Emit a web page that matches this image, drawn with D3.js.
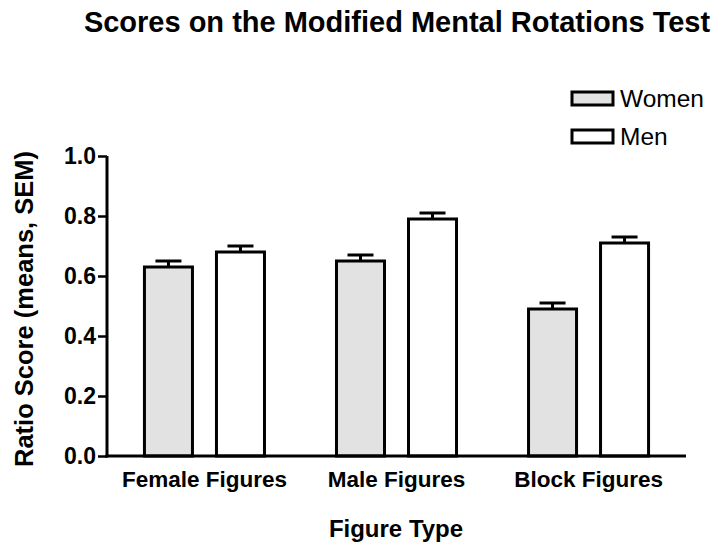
<!DOCTYPE html>
<html>
<head>
<meta charset="utf-8">
<script src="https://cdn.jsdelivr.net/npm/d3@7/dist/d3.min.js"></script>
<style>
  html, body { margin: 0; padding: 0; background: #fff; }
  svg { display: block; }
  text { font-family: "Liberation Sans", Arial, Helvetica, sans-serif; fill: #000; }
</style>
</head>
<body>
<svg id="chart" width="722" height="551"></svg>
<script>
const categories = ["Female Figures", "Male Figures", "Block Figures"];
const seriesNames = ["Women", "Men"];
const womenMeans = [0.63, 0.65, 0.49];
const womenSEM = [0.02, 0.02, 0.02];
const menMeans = [0.68, 0.79, 0.71];
const menSEM = [0.02, 0.02, 0.02];
const yTicks = [0.0, 0.2, 0.4, 0.6, 0.8, 1.0];

const fills = { Women: "#e2e2e2", Men: "#ffffff" };

const svg = d3.select("#chart");

const x0 = d3.scaleBand().domain(categories).range([107, 686]).paddingInner(0.375).paddingOuter(0.195);
const x1 = d3.scaleBand().domain(seriesNames).range([0, x0.bandwidth()]).paddingInner(1/3);
const y = d3.scaleLinear().domain([0, 1]).range([456, 156]);

const data = [];
categories.forEach((c, i) => {
  data.push({ cat: c, series: "Women", mean: womenMeans[i], sem: womenSEM[i] });
  data.push({ cat: c, series: "Men", mean: menMeans[i], sem: menSEM[i] });
});

// Title
svg.append("text").attr("x", 397).attr("y", 32).attr("text-anchor", "middle")
  .style("font-size", "29px").style("font-weight", "bold")
  .text("Scores on the Modified Mental Rotations Test");

// Error bars
const eb = svg.append("g");
data.forEach(d => {
  const cx = x0(d.cat) + x1(d.series) + x1.bandwidth() / 2;
  eb.append("line").attr("x1", cx).attr("x2", cx).attr("y1", y(d.mean)).attr("y2", y(d.mean + d.sem))
    .attr("stroke", "#000").attr("stroke-width", 3);
  eb.append("line").attr("x1", cx - 13).attr("x2", cx + 13).attr("y1", y(d.mean + d.sem)).attr("y2", y(d.mean + d.sem))
    .attr("stroke", "#000").attr("stroke-width", 3);
});

// Bars
svg.append("g").selectAll("rect").data(data).join("rect")
  .attr("x", d => x0(d.cat) + x1(d.series))
  .attr("y", d => y(d.mean))
  .attr("width", x1.bandwidth())
  .attr("height", d => y(0) - y(d.mean))
  .attr("fill", d => fills[d.series])
  .attr("stroke", "#000").attr("stroke-width", 3);

// Y axis
const yAxis = svg.append("g").attr("transform", "translate(107,0)")
  .call(d3.axisLeft(y).tickValues(yTicks).tickFormat(d3.format(".1f")).tickSize(9).tickPadding(2));
yAxis.select(".domain").attr("stroke-width", 3).attr("d", "M0," + y(1) + "V" + (y(0) + 1.5));
yAxis.selectAll(".tick line").attr("stroke-width", 2.5);
yAxis.selectAll(".tick text").style("font-size", "23px").style("font-weight", "bold")
  .style("font-family", "'Liberation Sans', Arial, sans-serif").attr("fill", "#000");

// X axis
const xAxis = svg.append("g").attr("transform", "translate(0,456)")
  .call(d3.axisBottom(x0).tickSize(0).tickPadding(15));
xAxis.select(".domain").attr("stroke-width", 3).attr("d", "M105.5,0H686");
xAxis.selectAll(".tick text").style("font-size", "22.5px").style("font-weight", "bold")
  .style("font-family", "'Liberation Sans', Arial, sans-serif").attr("fill", "#000");

// Axis titles
svg.append("text").attr("x", 396).attr("y", 537).attr("text-anchor", "middle")
  .style("font-size", "24px").style("font-weight", "bold").text("Figure Type");
svg.append("text").attr("transform", "translate(33,309) rotate(-90)").attr("text-anchor", "middle")
  .style("font-size", "25.5px").style("font-weight", "bold").text("Ratio Score (means, SEM)");

// Legend
const legend = svg.append("g");
seriesNames.forEach((s, i) => {
  const ly = 92 + i * 38;
  legend.append("rect").attr("x", 572).attr("y", ly).attr("width", 41).attr("height", 13)
    .attr("fill", fills[s]).attr("stroke", "#000").attr("stroke-width", 3);
  legend.append("text").attr("x", 620).attr("y", ly + 15).style("font-size", "24.5px").text(s);
});
</script>
</body>
</html>
